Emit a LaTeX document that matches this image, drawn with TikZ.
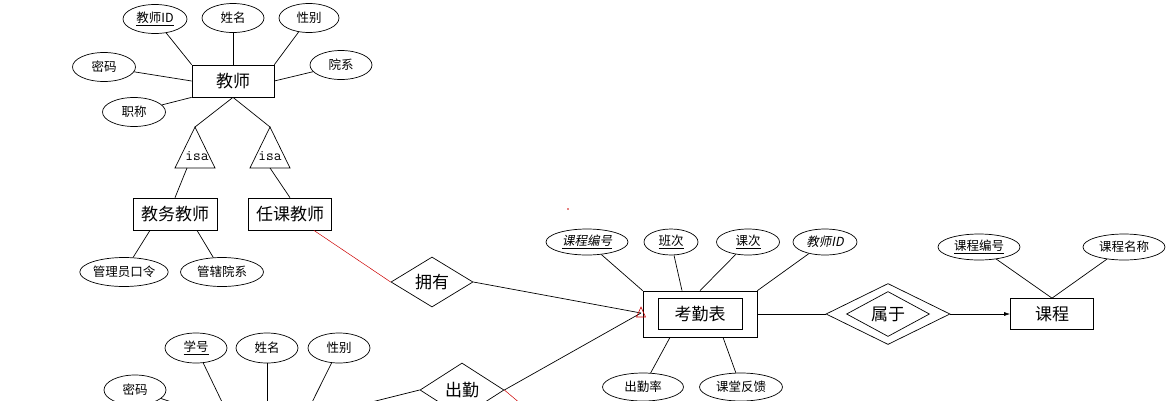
\documentclass[tikz,border=0pt]{standalone}
\usepackage{fontspec}
\setmainfont{Noto Sans CJK SC}
\newfontfamily\cjkit[FakeSlant=0.2]{Noto Sans CJK SC}
\usetikzlibrary{shapes.geometric,calc,arrows.meta}
\begin{document}
\begin{tikzpicture}[x=1pt,y=-1pt,
  line width=0.7pt,
  attr/.style={ellipse,draw,inner sep=0pt,minimum width=#1,minimum height=29pt,font=\fontsize{12.5}{14}\selectfont},
  attr/.default=62,
  attrs/.style={attr=#1,minimum height=26pt},
  ent/.style={rectangle,draw,inner sep=0pt,minimum height=32pt,minimum width=#1,font=\fontsize{17}{20}\selectfont},
  rel/.style={diamond,draw,inner sep=0pt,shape aspect=1.6,font=\fontsize{17}{20}\selectfont},
  isatxt/.style={inner sep=0pt,font=\fontsize{15}{16}\ttfamily},
  redline/.style={draw=red!80!black,line width=0.5pt}
]
\useasboundingbox (0,0) rectangle (1175,400);
\clip (0,0) rectangle (1175,400);

% ---------- teacher ----------
\node[ent=82] (teacher) at (233,81) {教师};
\node[attr=64] (tID) at (155,19) {\underline{教师ID}};
\node[attr=62] (tName) at (233,18) {姓名};
\node[attr=60] (tSex) at (309,18) {性别};
\node[attr=62] (tYuan) at (341,65) {院系};
\node[attr=63] (tMima) at (104,67) {密码};
\node[attr=63] (tZhi) at (134,112) {职称};
\draw (tID) -- (teacher.north west);
\draw (tName) -- (teacher.north);
\draw (tSex) -- (teacher.north east);
\draw (tYuan) -- (teacher.east);
\draw (tMima) -- (teacher.west);
\draw (tZhi) -- (teacher.south west);

% isa triangles
\coordinate (isaLt) at (195,127);
\coordinate (isaLa) at (175,168);
\coordinate (isaLc) at (215,168);
\coordinate (isaLb) at (187,168);
\coordinate (isaRt) at (270,127);
\coordinate (isaRa) at (250,168);
\coordinate (isaRc) at (290,168);
\coordinate (isaRb) at (270,168);
\draw (isaLt) -- (isaLa) -- (isaLc) -- cycle;
\draw (isaRt) -- (isaRa) -- (isaRc) -- cycle;
\node[isatxt] (isaL) at (197,156) {isa};
\node[isatxt] (isaR) at (270,156) {isa};
\draw (teacher.south) -- (isaLt);
\draw (teacher.south) -- (isaRt);

\node[ent=84] (jw) at (175,214) {教务教师};
\node[ent=83] (rk) at (290,214) {任课教师};
\draw (isaLb) -- (jw.north);
\draw (isaRb) -- (rk.north);

\node[attr=82] (gly) at (124,272) {管理员口令};
\node[attr=83] (gx) at (222,272) {管辖院系};
\draw ([xshift=-25pt]jw.south) -- (gly);
\draw ([xshift=22pt]jw.south) -- (gx);

% ---------- relation yongyou ----------
\node[rel,minimum width=82pt,minimum height=50pt] (yong) at (432,282) {拥有};
\draw[redline] ([xshift=-18pt]rk.south east) -- (yong.west);
\fill[red!80!black] (568,209) circle (0.8pt);

% ---------- kaoqin ----------
\node[ent=114,minimum height=46pt] (kq) at (700,314) {};
\node[ent=84,minimum height=31pt] (kqi) at (700,314) {考勤表};
\coordinate (kin) at (641,313);
\draw (yong.east) -- (kin);

\node[attrs=82] (a1) at (587,242) {\cjkit\underline{课程编号}};
\node[attrs=54] (a2) at (671,242) {\underline{班次}};
\node[attrs=63] (a3) at (748,242) {\underline{课次}};
\node[attrs=64] (a4) at (825,242) {\cjkit 教师ID};
\draw (a1) -- (kq.north west);
\draw (a2) -- ([xshift=-18pt]kq.north);
\draw (a3) -- (kq.north);
\draw (a4) -- (kq.north east);

\node[attr=81,minimum height=28pt] (b1) at (643,387) {出勤率};
\node[attr=83,minimum height=28pt] (b2) at (741,387) {课堂反馈};
\draw ([xshift=-30pt]kq.south) -- (b1);
\draw ([xshift=23pt]kq.south) -- (b2);

% ---------- shuyu / kecheng ----------
\node[diamond,draw,inner sep=0pt,minimum width=124pt,minimum height=61pt] (sy) at (888,314) {};
\node[rel,minimum width=83pt,minimum height=45pt] (syi) at (888,314) {属于};
\node[ent=83,minimum height=31pt] (kc) at (1052,314) {课程};
\draw (kq.east) -- (sy.west);
\draw[-{Latex[length=6pt,width=4pt]}] (sy.east) -- (kc.west);
\node[attrs=82] (c1) at (979,247) {\underline{课程编号}};
\node[attrs=82] (c2) at (1124,247) {课程名称};
\draw (c1) -- (kc.north);
\draw (c2) -- (kc.north);

% ---------- student (box below the visible area) ----------
\node[inner sep=0pt,minimum width=80pt,minimum height=32pt] (stu) at (267,428) {};
\node[attr=62,minimum height=30pt] (s1) at (196,348) {\underline{学号}};
\node[attr=62,minimum height=30pt] (s2) at (267,348) {姓名};
\node[attr=62,minimum height=30pt] (s3) at (339,348) {性别};
\node[attr=62,minimum height=30pt] (s4) at (135,390) {密码};
\draw (s1) -- (stu.north west);
\draw (s2) -- (stu.north);
\draw (s3) -- (stu.north east);
\draw (s4) -- ([yshift=8pt]stu.west);

\node[rel,minimum width=84pt,minimum height=54pt] (cq) at (462,390) {出勤};
\draw ([yshift=10pt]stu.east) -- (cq.west);
\draw (cq.east) -- (kin);
\coordinate (cqred) at (540,420);
\draw[redline] (cq.east) -- (cqred);

% red open triangle at the join
\draw[redline,line width=0.6pt] ($(kin)+(0,-6)$) -- ($(kin)+(4.5,4)$) -- ($(kin)+(-4.5,4)$) -- cycle;
\end{tikzpicture}
\end{document}
